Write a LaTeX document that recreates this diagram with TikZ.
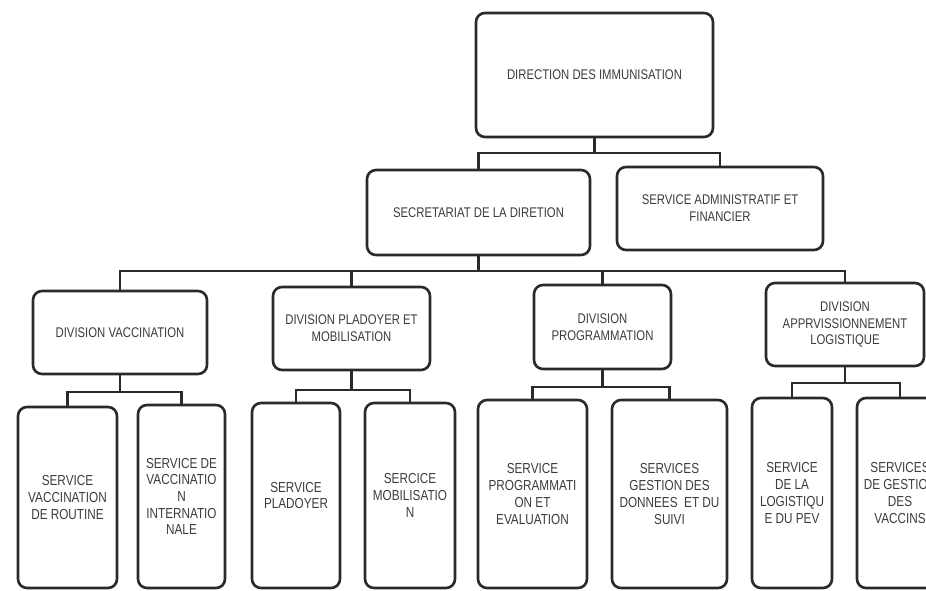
\documentclass[tikz,border=0pt]{standalone}
\usepackage{fontspec}
\setmainfont{Liberation Sans}[FakeStretch=0.81]
\definecolor{ink}{HTML}{2A2A2A}
\definecolor{txt}{HTML}{3C3C3C}
\begin{document}
\begin{tikzpicture}[x=1pt,y=-1pt,
  box/.style={draw=ink, line width=2.6pt, rounded corners=9pt, fill=white,
    text=txt, align=center, inner sep=2pt,
    font=\fontsize{14}{16.7}\selectfont},
  leaf/.style={box, font=\fontsize{14.5}{16.7}\selectfont},
  conn/.style={draw=ink, line width=2.3pt}]
\useasboundingbox (0,0) rectangle (926,590);
\clip (0,0) rectangle (926,590);
% level 0
\node[box, minimum width=237pt, minimum height=124pt] (dir) at (594.5,75) {DIRECTION DES IMMUNISATION};
% level 1
\node[box, minimum width=223pt, minimum height=85pt] (sec) at (478.5,212.5) {SECRETARIAT DE LA DIRETION};
\node[box, minimum width=206pt, minimum height=83pt] (adm) at (720,208.5) {SERVICE ADMINISTRATIF ET\\FINANCIER};
% level 2
\node[box, minimum width=174pt, minimum height=83pt] (dv) at (120,332.5) {DIVISION VACCINATION};
\node[box, minimum width=157pt, minimum height=83pt] (dp) at (351.5,328.5) {DIVISION PLADOYER ET\\MOBILISATION};
\node[box, minimum width=137pt, minimum height=84pt] (dpr) at (602.5,327) {DIVISION\\PROGRAMMATION};
\node[box, minimum width=158pt, minimum height=83pt] (da) at (845,324.5) {DIVISION\\APPRVISSIONNEMENT\\LOGISTIQUE};
% level 3
\node[leaf, minimum width=99pt, minimum height=181pt] (svr) at (67.5,497.5) {SERVICE\\VACCINATION\\DE ROUTINE};
\node[leaf, minimum width=87pt, minimum height=183pt] (svi) at (181.5,496.5) {SERVICE DE\\VACCINATIO\\N\\INTERNATIO\\NALE};
\node[leaf, minimum width=88pt, minimum height=185pt] (sp) at (296,495.5) {SERVICE\\PLADOYER};
\node[leaf, minimum width=90pt, minimum height=185pt] (sm) at (410,495.5) {SERCICE\\MOBILISATIO\\N};
\node[leaf, minimum width=109pt, minimum height=188pt] (spe) at (532.5,494) {SERVICE\\PROGRAMMATI\\ON ET\\EVALUATION};
\node[leaf, minimum width=115pt, minimum height=188pt] (sgd) at (669.5,494) {SERVICES\\GESTION DES\\DONNEES~~ET DU\\SUIVI};
\node[leaf, minimum width=80pt, minimum height=190pt] (slp) at (792,493) {SERVICE\\DE LA\\LOGISTIQU\\E DU PEV};
\node[leaf, minimum width=86pt, minimum height=190pt] (sgv) at (900,493) {SERVICES\\DE GESTION\\DES\\VACCINS};
% connectors level 0-1
\coordinate (b1) at (dir.south |- 0,153);
\draw[conn] (dir.south) -- (b1);
\draw[conn] (sec.north) |- (b1) -| (adm.north);
% connectors level 1-2
\coordinate (b2) at (sec.south |- 0,271);
\draw[conn] (sec.south) -- (b2);
\draw[conn] (dv.north) |- (b2) -| (da.north);
\draw[conn] (dp.north) -- (dp.north |- b2);
\draw[conn] (dpr.north) -- (dpr.north |- b2);
% connectors level 2-3
\coordinate (c1) at (dv.south |- 0,392);
\draw[conn] (dv.south) -- (c1);
\draw[conn] (svr.north) |- (c1) -| (svi.north);
\coordinate (c2) at (dp.south |- 0,390);
\draw[conn] (dp.south) -- (c2);
\draw[conn] (sp.north) |- (c2) -| (sm.north);
\coordinate (c3) at (dpr.south |- 0,387);
\draw[conn] (dpr.south) -- (c3);
\draw[conn] (spe.north) |- (c3) -| (sgd.north);
\coordinate (c4) at (da.south |- 0,383);
\draw[conn] (da.south) -- (c4);
\draw[conn] (slp.north) |- (c4) -| (sgv.north);
\end{tikzpicture}
\end{document}
